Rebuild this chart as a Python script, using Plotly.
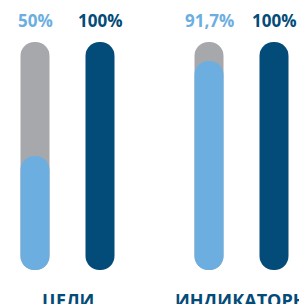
import plotly.graph_objects as go

categories = ["ЦЕЛИ", "ИНДИКАТОРЫ"]
achieved = [50, 91.7]          # light-blue fill on grey track
planned = [100, 100]           # dark-blue bar
track = [100, 100]             # grey background track
achieved_labels = ["50%", "91,7%"]
planned_labels = ["100%", "100%"]

GREY = "#A7A8AC"
LIGHT = "#6CAEDF"
DARK = "#034B78"

W, H = 299, 304
group_centers = [67.5, 241.5]
offset = 32.5
bar_w = 29
px_per_unit = 2.28
bottom_px = 270

xa = [c - offset for c in group_centers]
xb = [c + offset for c in group_centers]

fig = go.Figure()

def pill_bars(xs, values, color):
    fig.add_trace(go.Bar(x=xs, y=values, base=[0] * len(values),
                         width=bar_w, marker=dict(color=color, line=dict(width=0),
                                                  cornerradius=bar_w / 2),
                         hoverinfo="skip", showlegend=False))

pill_bars(xa, track, GREY)
pill_bars(xa, achieved, LIGHT)
pill_bars(xb, planned, DARK)

annotations = []
label_y = (bottom_px - 20.5) / px_per_unit
cat_y = (bottom_px - 300) / px_per_unit
for i, cat in enumerate(categories):
    annotations.append(dict(x=xa[i], y=label_y, xref="x", yref="y", text=f"<b>{achieved_labels[i]}</b>",
                            showarrow=False, font=dict(family="Open Sans", size=17, color=LIGHT),
                            xanchor="center", yanchor="middle"))
    annotations.append(dict(x=xb[i], y=label_y, xref="x", yref="y", text=f"<b>{planned_labels[i]}</b>",
                            showarrow=False, font=dict(family="Open Sans", size=17, color=DARK),
                            xanchor="center", yanchor="middle"))
    annotations.append(dict(x=group_centers[i], y=cat_y, xref="x", yref="y", text=f"<b>{cat}</b>",
                            showarrow=False, font=dict(family="Open Sans", size=18, color=DARK),
                            xanchor="center", yanchor="middle"))

y_top = bottom_px / px_per_unit
y_bot = (bottom_px - H) / px_per_unit

fig.update_layout(
    width=W, height=H,
    margin=dict(l=0, r=0, t=0, b=0),
    barmode="overlay",
    plot_bgcolor="rgba(0,0,0,0)", paper_bgcolor="white",
    xaxis=dict(range=[0, W], visible=False, fixedrange=True),
    yaxis=dict(range=[y_bot, y_top], visible=False, fixedrange=True),
    annotations=annotations,
    showlegend=False,
)

fig.write_html("out.html", config={"displayModeBar": False},
               post_script="document.body.style.margin='0';document.body.style.overflow='hidden';")
